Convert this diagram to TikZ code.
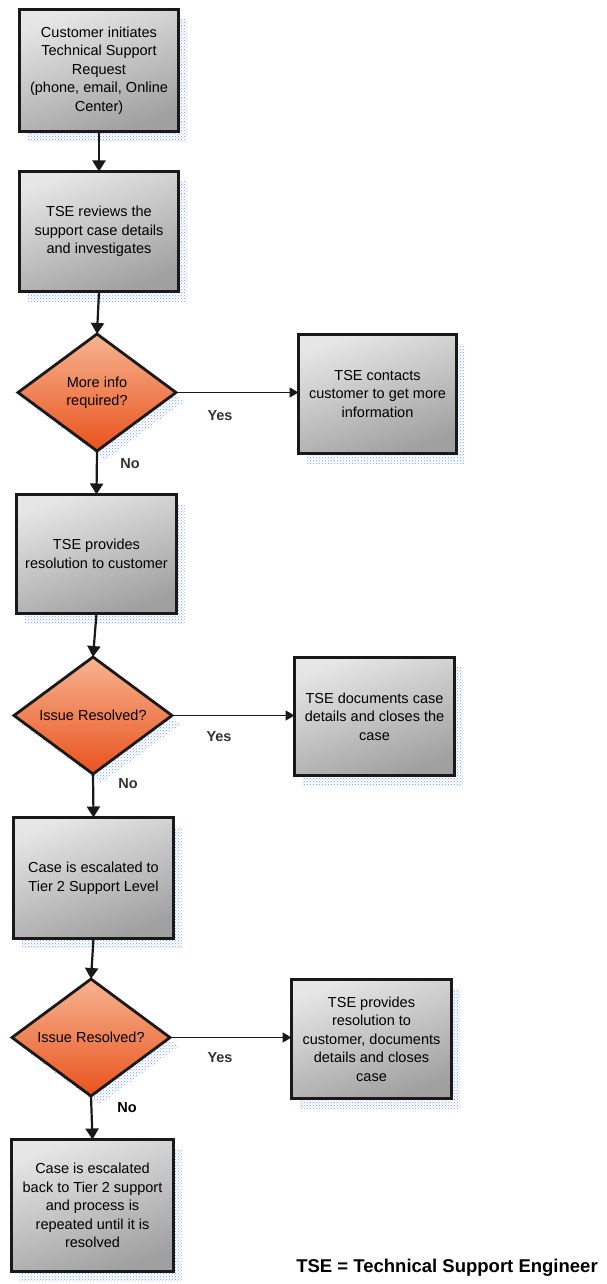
\documentclass[tikz,border=0pt]{standalone}
\usepackage{fontspec}
\setmainfont{Liberation Sans}
\usetikzlibrary{shapes.geometric,patterns,arrows.meta,backgrounds}
\definecolor{boxtop}{RGB}{230,230,230}
\definecolor{boxbot}{RGB}{160,160,160}
\definecolor{ortop}{RGB}{246,180,145}
\definecolor{orbot}{RGB}{234,82,28}
\definecolor{shadowc}{RGB}{115,155,235}
\definecolor{edge}{RGB}{25,25,25}
\begin{document}
\begin{tikzpicture}[x=1pt,y=-1pt,
 txt/.style={font=\fontsize{14.5}{18.5}\selectfont, align=center, text=black},
 box/.style={txt, draw=edge, line width=2.8pt, inner sep=0pt, outer sep=0pt, top color=boxtop, bottom color=boxbot, shading angle=20},
 dia/.style={diamond, draw=edge, line width=2.8pt, inner sep=0pt, outer sep=0pt, top color=ortop, bottom color=orbot, minimum width=158pt, minimum height=117pt},
 arr/.style={draw=edge, line width=2.2pt, -{Triangle[length=11pt,width=13pt]}},
 harr/.style={draw=edge, line width=1.5pt, -{Triangle[length=9pt,width=10pt]}},
 lbl/.style={font=\fontsize{14.5}{17}\selectfont\bfseries, text=black!80},
 shad/.style={pattern=crosshatch dots, pattern color=shadowc}
]
\useasboundingbox (0,0) rectangle (607,1284);

% boxes
\node[box, minimum width=159pt, minimum height=122pt] (b1) at (99,70.5) {Customer initiates\\Technical Support\\Request\\(phone, email, Online\\Center)};
\node[box, minimum width=159pt, minimum height=120pt] (b2) at (99,231.5) {TSE reviews the\\support case details\\and investigates};
\node[dia] (d1) at (97,392.5) {};
\node[txt] (t1) at (d1) {More info\\required?};
\node[box, minimum width=158pt, minimum height=119pt] (r1) at (377.5,394) {TSE contacts\\customer to get more\\information};
\node[box, minimum width=160pt, minimum height=119pt] (b3) at (96.5,554) {TSE provides\\resolution to customer};
\node[dia] (d2) at (93,715.5) {};
\node[txt] (t2) at (d2) {Issue Resolved?};
\node[box, minimum width=160pt, minimum height=118pt] (r2) at (374.5,716.5) {TSE documents case\\details and closes the\\case};
\node[box, minimum width=160pt, minimum height=121pt] (b4) at (93.5,878) {Case is escalated to\\Tier 2 Support Level};
\node[dia] (d3) at (91,1037.5) {};
\node[txt] (t3) at (d3) {Issue Resolved?};
\node[box, minimum width=160pt, minimum height=119pt] (r3) at (371.5,1039) {TSE provides\\resolution to\\customer, documents\\details and closes\\case};
\node[box, minimum width=162pt, minimum height=132pt] (b5) at (92.5,1205.5) {Case is escalated\\back to Tier 2 support\\and process is\\repeated until it is\\resolved};

\node[font=\fontsize{18.5}{20}\selectfont\bfseries, text=black] (note) at (447,1268) {TSE = Technical Support Engineer};

% shadows
\begin{scope}[on background layer]
\fill[white] (0,0) rectangle (607,1284);
\foreach \n in {b1,b2,r1,b3,r2,b4,r3,b5}{
  \path[shad] ([shift={(8,10)}]\n.north west) rectangle ([shift={(8,10)}]\n.south east);
}
\foreach \n in {d1,d2,d3}{
  \path[shad] ([shift={(8,9)}]\n.north) -- ([shift={(8,9)}]\n.east) -- ([shift={(8,9)}]\n.south) -- ([shift={(8,9)}]\n.west) -- cycle;
}
\end{scope}

% connectors
\draw[arr] (b1.south) -- (b2.north);
\draw[arr] (b2.south) -- (d1.north);
\draw[harr] (d1.east) -- (d1.east -| r1.west);
\draw[arr] (d1.south) -- (b3.north);
\draw[arr] (b3.south) -- (d2.north);
\draw[harr] (d2.east) -- (d2.east -| r2.west);
\draw[arr] (d2.south) -- (b4.north);
\draw[arr] (b4.south) -- (d3.north);
\draw[harr] (d3.east) -- (d3.east -| r3.west);
\draw[arr] (d3.south) -- (b5.north);

% labels
\node[lbl] (y1) at (220,416) {Yes};
\node[lbl] (n1) at (130,464) {No};
\node[lbl] (y2) at (219,737) {Yes};
\node[lbl] (n2) at (128,784) {No};
\node[lbl] (y3) at (220,1058) {Yes};
\node[lbl, text=black] (n3) at (127,1108) {No};
\end{tikzpicture}
\end{document}
